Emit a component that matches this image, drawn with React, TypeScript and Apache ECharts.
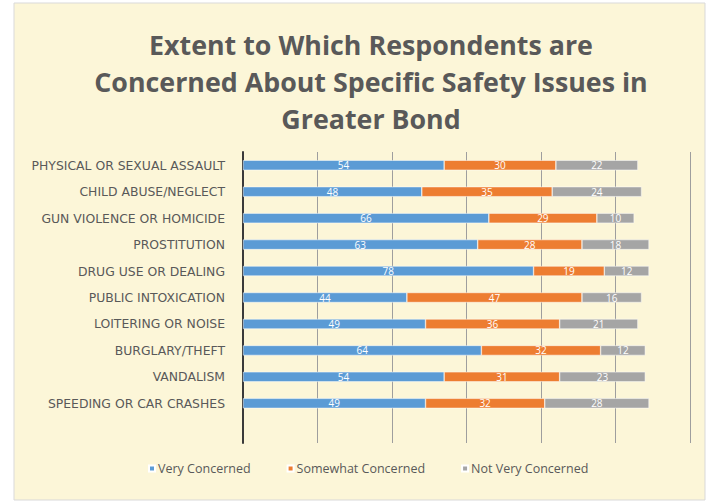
import React, { useEffect, useRef } from "react";
import * as echarts from "echarts";

const categories = [
  "PHYSICAL OR SEXUAL ASSAULT",
  "CHILD ABUSE/NEGLECT",
  "GUN VIOLENCE OR HOMICIDE",
  "PROSTITUTION",
  "DRUG USE OR DEALING",
  "PUBLIC INTOXICATION",
  "LOITERING OR NOISE",
  "BURGLARY/THEFT",
  "VANDALISM",
  "SPEEDING OR CAR CRASHES",
  "",
];
const veryConcerned = [54, 48, 66, 63, 78, 44, 49, 64, 54, 49];
const somewhatConcerned = [30, 35, 29, 28, 19, 47, 36, 32, 31, 32];
const notVeryConcerned = [22, 24, 10, 18, 12, 16, 21, 12, 23, 28];
const seriesNames = ["Very Concerned", "Somewhat Concerned", "Not Very Concerned"];
const titleText = "Extent to Which Respondents are\nConcerned About Specific Safety Issues in\nGreater Bond";

const FONT = "'Open Sans', 'Noto Sans', sans-serif";

export default function App() {
  const ref = useRef<HTMLDivElement>(null);
  useEffect(() => {
    if (!ref.current) return;
    const chart = echarts.init(ref.current, null, { renderer: "svg" });
    const colors = ["#5B9BD5", "#ED7D31", "#A5A5A5"];
    const datasets = [veryConcerned, somewhatConcerned, notVeryConcerned];
    chart.setOption({
      animation: false,
      backgroundColor: "#ffffff",
      textStyle: { fontFamily: FONT },
      graphic: [
        {
          type: "rect",
          z: -10,
          shape: { x: 14, y: 3, width: 691, height: 497 },
          style: { fill: "#FCF6D8", stroke: "#D9D9D9", lineWidth: 1 },
        },
      ],
      title: {
        text: titleText,
        left: 366,
        textAlign: "center",
        top: 21,
        textStyle: {
          fontFamily: FONT,
          fontSize: 26.8,
          fontWeight: "bold",
          color: "#595959",
          lineHeight: 37,
        },
      },
      legend: {
        data: seriesNames,
        top: 457,
        left: 143,
        icon: "rect",
        itemWidth: 6,
        itemHeight: 6,
        itemGap: 36,
        textStyle: { color: "#595959", fontSize: 12.5, fontFamily: FONT, padding: [0, 0, 0, -2] },
      },
      grid: { left: 243, top: 152, width: 447, height: 291, containLabel: false },
      xAxis: {
        type: "value",
        min: 0,
        max: 120,
        interval: 20,
        axisLabel: { show: false },
        axisLine: { show: false },
        axisTick: { show: false },
        splitLine: { show: true, lineStyle: { color: "#9E9E9E", width: 1 } },
      },
      yAxis: {
        type: "category",
        inverse: true,
        data: categories,
        axisLine: { show: true, lineStyle: { color: "#3A3A3A", width: 2 } },
        axisTick: { show: false },
        axisLabel: {
          color: "#595959",
          fontSize: 12.4,
          margin: 18,
          fontFamily: "'DejaVu Sans', sans-serif",
        },
      },
      series: datasets.map((d, i) => ({
        name: seriesNames[i],
        type: "bar",
        stack: "total",
        data: d,
        barWidth: 10,
        itemStyle: { color: colors[i], borderColor: "#ffffff", borderWidth: 0.5 },
        label: {
          show: true,
          position: "inside",
          color: "#ffffff",
          fontSize: 10,
          fontFamily: FONT,
        },
      })),
    });
    return () => chart.dispose();
  }, []);
  return (
    <div
      ref={ref}
      style={{ position: "fixed", left: 0, top: 0, width: 711, height: 502 }}
    />
  );
}
